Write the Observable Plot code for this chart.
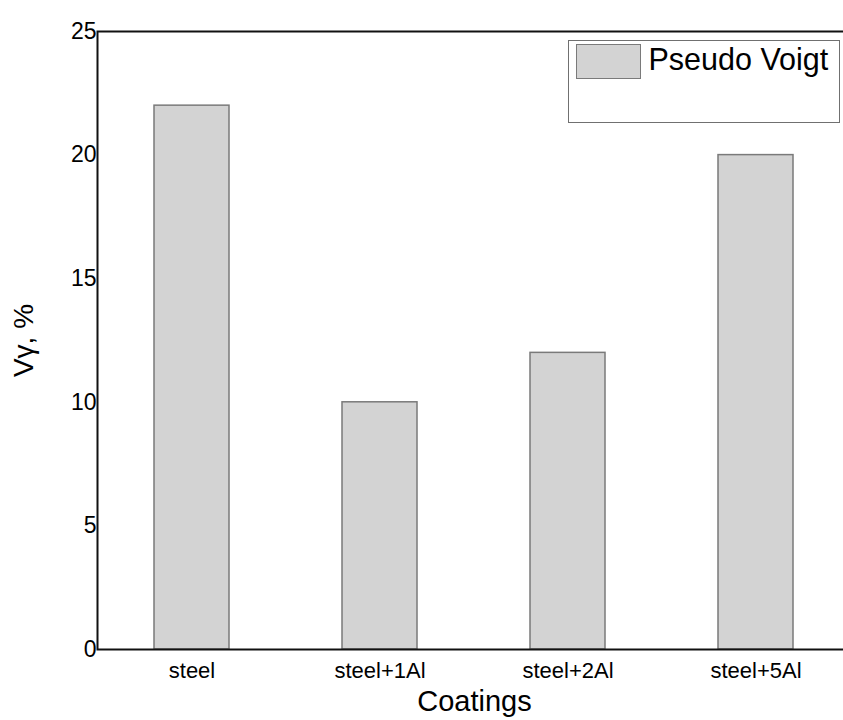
<!DOCTYPE html>
<html>
<head>
<meta charset="utf-8">
<script src="https://cdn.jsdelivr.net/npm/d3@7"></script>
<script src="https://cdn.jsdelivr.net/npm/@observablehq/plot@0.6"></script>
<style>
  html, body { margin: 0; padding: 0; background: #fff; }
  #wrap { position: relative; width: 843px; height: 720px; overflow: hidden; font-family: "Liberation Sans", Arial, sans-serif; }
  #wrap svg { display: block; max-width: none !important; }
  g[aria-label="y-axis tick label"] text { font-size: 23px; }
  g[aria-label="x-axis tick label"] text { font-size: 22px; }
  g[aria-label="x-axis label"] text { font-size: 29px; }
  g[aria-label="y-axis label"] text { font-size: 28px; }
  #legend { position: absolute; left: 568px; top: 40px; width: 272px; height: 83px; border: 1.5px solid #707070; box-sizing: border-box; background: #fff; }
  #legend .sw { position: absolute; left: 6.5px; top: 2.5px; width: 65px; height: 35px; background: #d3d3d3; border: 1.5px solid #7a7a7a; box-sizing: border-box; }
  #legend .lb { position: absolute; left: 79.5px; top: 2.8px; font-size: 30.5px; line-height: 30.5px; color: #000; white-space: nowrap; }
</style>
</head>
<body>
<div id="wrap"></div>
<script>
// Retained austenite volume fraction per coating
const coatings = ["steel", "steel+1Al", "steel+2Al", "steel+5Al"];
const vGamma = [22, 10, 12, 20];
const yTicks = [0, 5, 10, 15, 20, 25];
const seriesName = "Pseudo Voigt";

const data = coatings.map((c, i) => ({coating: c, value: vGamma[i]}));

// The plot runs a little past the page's right edge, so its right border is cut off.
const chart = Plot.plot({
  width: 851,
  height: 720,
  marginLeft: 97,
  marginRight: 0,
  marginTop: 31,
  marginBottom: 71,
  style: {fontFamily: "'Liberation Sans', Arial, sans-serif", color: "#000", background: "#fff"},
  x: {domain: coatings, paddingInner: 0.6, paddingOuter: 0.3},
  y: {domain: [0, 25]},
  marks: [
    Plot.barY(data, {x: "coating", y: "value", fill: "#d3d3d3", stroke: "#7a7a7a", strokeWidth: 1.5}),
    Plot.frame({stroke: "#111", strokeWidth: 2}),
    Plot.axisY({ticks: yTicks, tickSize: 0, tickPadding: 1,
      label: "Vγ, %", labelAnchor: "center", labelArrow: false, labelOffset: 84}),
    Plot.axisX({tickSize: 0, tickPadding: 13,
      label: "Coatings", labelAnchor: "center", labelArrow: false, labelOffset: 61})
  ]
});

const wrap = document.getElementById("wrap");
wrap.appendChild(chart);

const legend = document.createElement("div");
legend.id = "legend";
legend.innerHTML = `<div class="sw"></div><div class="lb">${seriesName}</div>`;
wrap.appendChild(legend);
</script>
</body>
</html>
